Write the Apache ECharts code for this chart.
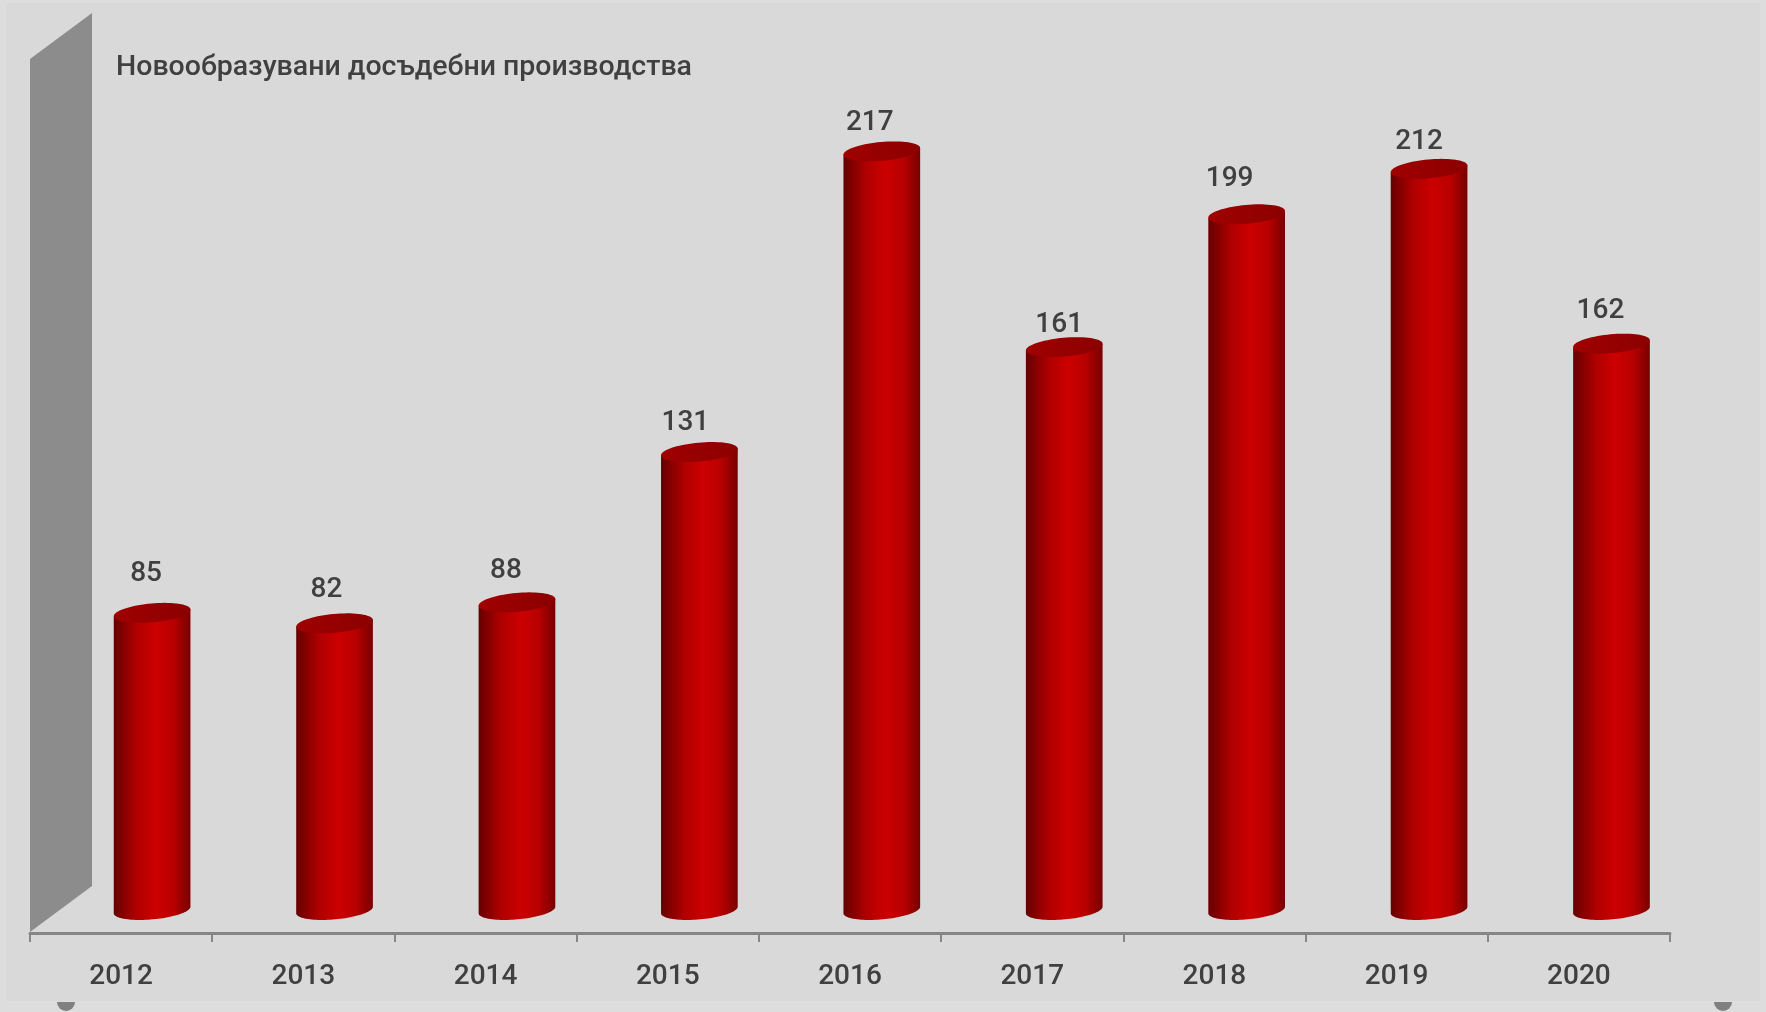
<!DOCTYPE html>
<html><head><meta charset="utf-8">
<style>html,body{margin:0;padding:0;background:#dddddd}#c{width:1766px;height:1012px}</style>
<script src="https://cdn.jsdelivr.net/npm/echarts@6/dist/echarts.min.js"></script>
</head><body><div id="c"></div>
<script>
const categories = ['2012','2013','2014','2015','2016','2017','2018','2019','2020'];
const values = [85,82,88,131,217,161,199,212,162];
const labelNudgeX = [-6,-8,-11,-14,-12,-5,-17,-10,-11];
const labelNudgeY = [-8,-2,0,2,3,9,-4,4,-2];
const chartTitle = 'Новообразувани досъдебни производства';
const axisMax = 250;

const FONT = 'Roboto, sans-serif';
const TEXT = '#404040';
const DEPTH_X = 62, DEPTH_Y = 46;
const RX = 38.5, RY = 9.4, TILT = 5.2 * Math.PI / 180;
const bodyFill = new echarts.graphic.LinearGradient(0,0,1,0,[
  {offset:0,color:'#660000'},{offset:.3,color:'#b00000'},{offset:.55,color:'#cc0000'},
  {offset:.78,color:'#b80000'},{offset:1,color:'#780000'}]);
const capFill = new echarts.graphic.LinearGradient(0,0,1,0,[
  {offset:0,color:'#a00000'},{offset:.5,color:'#960000'},{offset:1,color:'#8c0000'}]);

function ellipsePts(cx,cy,from,to,n){
  const pts=[];
  for(let i=0;i<=n;i++){
    const t=from+(to-from)*i/n, ex=RX*Math.cos(t), ey=RY*Math.sin(t);
    pts.push([cx+ex*Math.cos(TILT)+ey*Math.sin(TILT), cy-ex*Math.sin(TILT)+ey*Math.cos(TILT)]);
  }
  return pts;
}
function renderCylinder(params, api){
  const i = params.dataIndex;
  const p0 = api.coord([api.value(0),0]), p1 = api.coord([api.value(0),api.value(1)]);
  const cx = p0[0]+DEPTH_X/2+0.2*i, by = p0[1]-DEPTH_Y/2, ty = p1[1]-DEPTH_Y/2;
  const top = ellipsePts(cx,ty,Math.PI,0,1);
  const body = ellipsePts(cx,by,0,Math.PI,48).concat([top[0],top[1]]);
  return {type:'group',children:[
    {type:'polygon',shape:{points:body},style:{fill:bodyFill}},
    {type:'polygon',shape:{points:ellipsePts(cx,ty,0,2*Math.PI,72)},style:{fill:capFill}},
    {type:'text',style:{text:String(values[i]),x:cx+labelNudgeX[i],y:ty-31+labelNudgeY[i],align:'center',verticalAlign:'middle',
      font:'500 28px '+FONT,fill:TEXT}}
  ]};
}
function renderWall(params, api){
  const cs = params.coordSys;
  const x = cs.x, a = cs.y+cs.height, b = cs.y;
  return {type:'polygon',silent:true,shape:{points:[
    [x,a-1],[x+DEPTH_X,a-1-DEPTH_Y],[x+DEPTH_X,b-DEPTH_Y],[x,b]]},
    style:{fill:'#8c8c8c'}};
}
const chart = echarts.init(document.getElementById('c'),null,{renderer:'canvas'});
chart.setOption({
  animation:false,
  backgroundColor:'#dddddd',
  title:{text:chartTitle,left:116,top:53,padding:0,textStyle:{fontFamily:FONT,fontWeight:500,fontSize:28.5,color:TEXT}},
  graphic:[
    {type:'rect',z:-10,shape:{x:6,y:3,width:1754,height:998},style:{fill:'#d9d9d9'}},
    {type:'sector',z:-5,shape:{cx:66,cy:1002,r:9,startAngle:0,endAngle:Math.PI},style:{fill:'#808080'}},
    {type:'sector',z:-5,shape:{cx:1723,cy:1002,r:9,startAngle:0,endAngle:Math.PI},style:{fill:'#808080'}}
  ],
  grid:{left:30,right:96,top:59,bottom:79},
  xAxis:{type:'category',data:categories,boundaryGap:true,
    axisLine:{show:true,lineStyle:{color:'#868686',width:3}},
    axisTick:{show:true,alignWithLabel:false,length:9,lineStyle:{color:'#868686',width:2}},
    axisLabel:{fontFamily:FONT,fontWeight:500,fontSize:28,color:TEXT,margin:30},splitLine:{show:false}},
  yAxis:{type:'value',min:0,max:axisMax,show:false,splitLine:{show:false}},
  series:[
    {type:'custom',coordinateSystem:'cartesian2d',renderItem:renderWall,data:[[0,0]],silent:true,clip:false,z:1},
    {type:'custom',coordinateSystem:'cartesian2d',renderItem:renderCylinder,clip:false,z:2,
      encode:{x:0,y:1},data:values.map((v,i)=>[i,v])}
  ]
});
</script></body></html>
